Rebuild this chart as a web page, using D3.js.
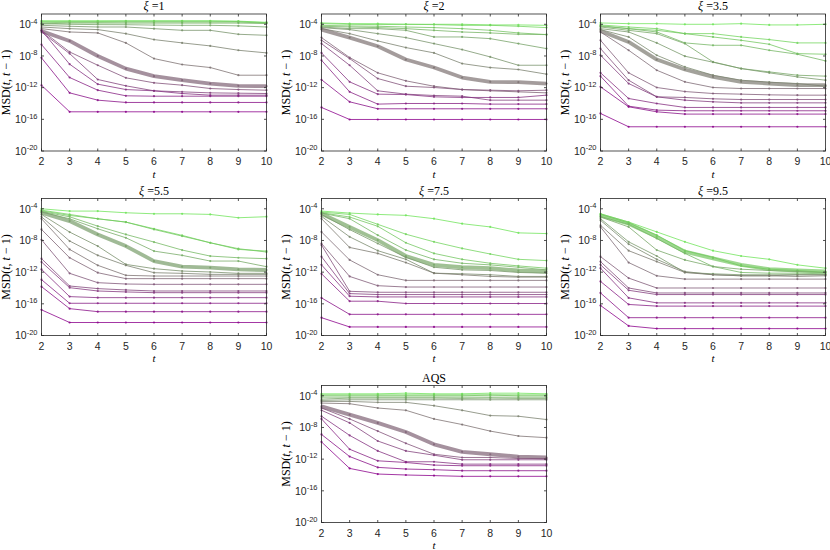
<!DOCTYPE html>
<html lang="en">
<head>
<meta charset="UTF-8">
<title>MSD(t, t-1) panels</title>
<script src="https://cdn.jsdelivr.net/npm/d3@7"></script>
<style>
  body { margin: 0; background: #fff; }
</style>
</head>
<body>
<svg id="chart" width="830" height="550"></svg>
<script>
// x positions and axis ticks
var tSteps = [2, 3, 4, 5, 6, 7, 8, 9, 10];
var yTickExp = [-4, -8, -12, -16, -20];
var panelTitles = ["1", "2", "3.5", "5.5", "7.5", "9.5", "AQS"];

// log10 of MSD(t, t-1), one row per curve, ordered green -> purple
var logXi1 = [
  [-3.55, -3.55, -3.55, -3.55, -3.55, -3.55, -3.55, -3.6, -3.75],
  [-3.65, -3.65, -3.65, -3.62, -3.62, -3.62, -3.62, -3.65, -3.8],
  [-3.8, -3.75, -3.75, -3.72, -3.72, -3.72, -3.72, -3.72, -3.85],
  [-3.95, -3.85, -3.85, -3.85, -3.85, -3.85, -3.85, -3.85, -3.9],
  [-3.92, -4.0, -4.04, -4.05, -4.1, -4.13, -4.13, -4.2, -4.34],
  [-4.13, -4.25, -4.34, -4.34, -4.55, -4.76, -4.76, -5.26, -5.39],
  [-4.34, -4.55, -4.67, -5.18, -5.93, -6.35, -6.73, -7.28, -7.61],
  [-4.55, -4.97, -5.09, -6.35, -8.33, -9.08, -9.46, -10.43, -10.43],
  [-4.84, -6.10, -8.0, -9.6, -10.55, -11.06, -11.48, -11.77, -11.82],
  [-4.76, -7.49, -9.17, -10.76, -11.39, -11.69, -12.11, -12.24, -12.32],
  [-4.97, -7.70, -10.97, -11.77, -12.40, -12.53, -12.66, -12.70, -12.74],
  [-4.76, -9.04, -11.56, -12.24, -12.40, -12.74, -12.95, -12.95, -12.95],
  [-6.56, -10.72, -12.32, -13.03, -13.08, -13.08, -13.08, -13.08, -13.08],
  [-8.24, -12.66, -13.58, -13.87, -13.87, -13.87, -13.87, -13.87, -13.87],
  [-11.7, -15.05, -15.05, -15.05, -15.05, -15.05, -15.05, -15.05, -15.05]
];
var logXi2 = [
  [-3.83, -3.92, -3.92, -4.0, -4.0, -4.0, -4.08, -4.08, -4.13],
  [-3.92, -4.0, -4.04, -4.0, -4.04, -4.13, -4.13, -4.25, -4.42],
  [-4.13, -4.21, -4.25, -4.34, -4.42, -4.55, -4.76, -5.09, -5.30],
  [-4.25, -4.34, -4.42, -4.55, -4.76, -4.97, -5.09, -5.26, -5.30],
  [-4.34, -4.55, -4.55, -4.76, -5.60, -5.60, -5.81, -6.44, -7.07],
  [-4.42, -4.67, -5.18, -5.68, -6.44, -7.19, -8.12, -9.17, -9.17],
  [-4.55, -5.18, -6.10, -6.94, -7.61, -8.96, -9.46, -9.71, -10.30],
  [-4.67, -5.68, -6.77, -8.45, -9.46, -10.72, -11.27, -11.31, -11.48],
  [-5.68, -8.20, -10.13, -11.14, -11.82, -12.24, -12.40, -12.53, -12.66],
  [-6.02, -8.33, -10.85, -11.82, -11.98, -12.24, -12.32, -12.40, -12.32],
  [-6.44, -9.17, -12.40, -12.82, -12.99, -13.08, -13.58, -13.58, -13.58],
  [-7.61, -11.27, -12.82, -12.87, -13.16, -13.24, -13.24, -13.24, -12.95],
  [-8.54, -12.53, -14.08, -14.00, -14.00, -14.00, -14.08, -14.08, -14.08],
  [-11.0, -13.79, -14.67, -14.67, -14.67, -14.67, -14.67, -14.67, -14.67],
  [-14.5, -16.02, -16.02, -16.02, -16.02, -16.02, -16.02, -16.02, -16.02]
];
var logXi35 = [
  [-3.83, -3.92, -3.92, -4.0, -4.0, -3.92, -4.08, -4.08, -4.0],
  [-4.08, -4.34, -4.55, -5.18, -5.18, -5.60, -5.93, -6.35, -6.35],
  [-4.17, -4.55, -4.76, -5.18, -5.60, -6.02, -6.52, -7.70, -7.78],
  [-4.25, -4.55, -4.97, -6.35, -6.65, -6.65, -7.28, -7.78, -8.62],
  [-4.34, -4.76, -5.18, -6.44, -8.75, -9.59, -10.01, -10.43, -10.55],
  [-4.55, -4.97, -6.35, -8.03, -8.79, -9.59, -10.13, -10.64, -11.06],
  [-4.67, -5.60, -7.91, -9.38, -10.43, -11.06, -11.31, -11.48, -11.82],
  [-4.84, -6.23, -8.45, -9.71, -10.64, -11.27, -11.48, -11.69, -11.69],
  [-4.97, -7.28, -9.80, -11.27, -11.98, -12.11, -12.11, -12.11, -12.11],
  [-6.02, -10.13, -11.98, -12.49, -12.74, -12.82, -12.91, -12.95, -12.95],
  [-7.07, -11.06, -13.16, -13.24, -13.41, -13.50, -13.50, -13.50, -13.50],
  [-7.91, -11.48, -13.16, -13.58, -13.79, -13.92, -13.92, -13.92, -13.92],
  [-10.13, -13.37, -14.00, -14.50, -14.50, -14.50, -14.50, -14.50, -14.50],
  [-10.55, -14.34, -14.84, -14.92, -14.92, -14.92, -14.92, -14.92, -14.92],
  [-11.90, -14.42, -15.05, -15.34, -15.34, -15.34, -15.34, -15.34, -15.34],
  [-15.26, -16.94, -16.94, -16.94, -16.94, -16.94, -16.94, -16.94, -16.94]
];
var logXi55 = [
  [-4.0, -4.29, -4.29, -4.5, -4.63, -4.63, -4.71, -5.13, -5.0],
  [-4.17, -4.71, -5.26, -5.68, -6.52, -7.36, -8.29, -9.13, -9.34],
  [-4.25, -4.84, -5.26, -5.68, -6.61, -7.45, -8.29, -9.04, -9.46],
  [-4.34, -5.01, -6.19, -7.24, -8.20, -9.21, -9.97, -10.18, -10.30],
  [-4.42, -5.26, -6.52, -7.66, -9.34, -9.88, -10.60, -10.60, -11.31],
  [-4.5, -5.55, -7.24, -8.71, -10.60, -11.31, -11.44, -11.65, -11.73],
  [-4.71, -6.94, -8.71, -11.02, -11.56, -11.86, -11.98, -12.15, -12.15],
  [-5.01, -8.07, -9.88, -11.14, -12.07, -12.15, -12.28, -12.28, -12.28],
  [-5.26, -9.13, -11.14, -12.40, -12.49, -12.49, -12.49, -12.49, -12.49],
  [-6.61, -10.18, -12.07, -12.82, -12.82, -12.82, -12.82, -12.82, -12.82],
  [-7.91, -12.15, -13.33, -13.50, -13.54, -13.54, -13.54, -13.54, -13.54],
  [-10.30, -13.75, -14.08, -14.25, -14.38, -14.38, -14.38, -14.38, -14.38],
  [-10.72, -13.96, -14.38, -14.50, -14.59, -14.59, -14.59, -14.59, -14.59],
  [-11.65, -15.09, -15.22, -15.22, -15.22, -15.22, -15.22, -15.22, -15.22],
  [-12.95, -15.93, -15.93, -15.93, -15.93, -15.93, -15.93, -15.93, -15.93],
  [-13.83, -16.61, -16.99, -16.99, -16.99, -16.99, -16.99, -16.99, -16.99],
  [-16.76, -18.36, -18.36, -18.36, -18.36, -18.36, -18.36, -18.36, -18.36]
];
var logXi75 = [
  [-4.29, -4.54, -4.71, -4.83, -5.25, -5.88, -6.29, -7.04, -7.13],
  [-4.42, -4.71, -5.96, -7.21, -8.17, -9.0, -9.71, -10.38, -10.54],
  [-4.5, -5.04, -6.21, -8.29, -9.63, -10.38, -10.88, -11.21, -11.5],
  [-4.54, -5.25, -7.33, -9.21, -10.38, -10.88, -11.08, -11.38, -11.71],
  [-4.63, -6.29, -7.96, -9.96, -11.08, -11.38, -11.5, -11.79, -11.92],
  [-4.71, -6.63, -8.38, -10.13, -11.38, -11.71, -11.79, -12.04, -12.13],
  [-4.96, -7.54, -9.29, -10.38, -12.13, -12.21, -12.33, -12.54, -12.54],
  [-5.25, -8.88, -9.63, -10.79, -12.13, -12.33, -12.54, -12.63, -12.63],
  [-6.92, -10.46, -12.33, -13.04, -13.04, -13.04, -13.04, -13.04, -13.04],
  [-8.38, -12.54, -13.71, -13.88, -13.88, -13.88, -13.88, -13.88, -13.88],
  [-8.58, -14.42, -14.54, -14.54, -14.54, -14.54, -14.54, -14.54, -14.54],
  [-10.04, -14.71, -14.83, -14.83, -14.83, -14.83, -14.83, -14.83, -14.83],
  [-11.08, -15.04, -15.13, -15.13, -15.13, -15.13, -15.13, -15.13, -15.13],
  [-12.21, -15.67, -15.67, -15.96, -15.96, -15.96, -15.96, -15.96, -15.96],
  [-15.25, -17.33, -17.33, -17.33, -17.33, -17.33, -17.33, -17.33, -17.33],
  [-17.75, -18.92, -18.92, -18.92, -18.92, -18.92, -18.92, -18.92, -18.92]
];
var logXi95 = [
  [-4.63, -5.67, -6.92, -8.17, -9.29, -9.96, -10.38, -11.08, -11.5],
  [-4.71, -5.79, -7.33, -9.29, -10.13, -11.21, -11.63, -11.79, -12.04],
  [-4.83, -5.88, -7.54, -9.42, -10.25, -11.08, -11.63, -11.79, -11.92],
  [-4.96, -5.96, -7.75, -9.63, -11.29, -12.04, -12.13, -12.13, -12.21],
  [-5.04, -6.29, -9.21, -10.46, -11.29, -11.63, -11.79, -11.92, -12.04],
  [-5.25, -8.17, -9.96, -12.04, -12.21, -12.33, -12.33, -12.33, -12.33],
  [-5.46, -8.46, -10.38, -11.92, -12.33, -12.46, -12.46, -12.33, -12.33],
  [-6.08, -9.29, -10.67, -12.04, -12.33, -12.46, -12.46, -12.54, -12.46],
  [-6.29, -10.79, -12.46, -12.88, -12.88, -12.88, -12.88, -12.88, -12.88],
  [-10.04, -12.75, -14.0, -14.0, -14.0, -14.0, -14.0, -14.0, -14.0],
  [-10.67, -14.0, -14.63, -14.63, -14.63, -14.63, -14.63, -14.63, -14.63],
  [-11.08, -14.29, -14.83, -14.83, -14.83, -14.83, -14.83, -14.83, -14.83],
  [-11.5, -15.25, -15.88, -15.88, -15.88, -15.88, -15.88, -15.88, -15.88],
  [-13.17, -16.08, -16.29, -16.29, -16.29, -16.29, -16.29, -16.29, -16.29],
  [-14.63, -17.75, -17.75, -17.75, -17.75, -17.75, -17.75, -17.75, -17.75],
  [-16.21, -18.79, -19.13, -19.13, -19.13, -19.13, -19.13, -19.13, -19.13]
];
var logAqs = [
  [-3.75, -3.75, -3.75, -3.67, -3.75, -3.75, -3.67, -3.67, -3.75],
  [-3.88, -3.88, -3.88, -3.88, -3.88, -3.88, -3.88, -3.88, -3.88],
  [-4.0, -4.0, -4.0, -4.0, -4.0, -4.0, -3.92, -4.0, -4.0],
  [-4.17, -4.17, -4.17, -4.17, -4.17, -4.17, -4.17, -4.17, -4.17],
  [-4.42, -4.29, -4.29, -4.29, -4.29, -4.33, -4.29, -4.33, -4.33],
  [-4.58, -4.5, -4.5, -4.5, -4.5, -4.5, -4.5, -4.5, -4.5],
  [-4.71, -4.71, -4.83, -4.83, -5.25, -5.83, -6.5, -6.58, -7.0],
  [-4.92, -5.0, -5.54, -5.83, -6.92, -7.63, -8.46, -9.08, -9.29],
  [-5.33, -6.38, -7.42, -8.58, -10.13, -11.08, -11.38, -11.67, -11.79],
  [-5.54, -6.92, -8.46, -10.0, -11.38, -11.79, -11.79, -11.92, -11.92],
  [-5.83, -7.42, -9.71, -10.96, -11.5, -12.08, -12.08, -12.08, -12.08],
  [-6.58, -9.0, -10.96, -12.33, -12.33, -12.63, -12.63, -12.63, -12.63],
  [-6.92, -10.75, -12.21, -12.42, -12.75, -12.83, -12.83, -12.83, -12.83],
  [-8.88, -11.67, -13.04, -13.25, -13.33, -13.46, -13.46, -13.46, -13.46],
  [-9.83, -13.17, -13.88, -14.0, -14.08, -14.17, -14.17, -14.17, -14.17]
];
// which curve is drawn with the thick stroke in each panel
var thickIndex = [8, 7, 7, 5, 4, 2, 8];

var panelSeries = [logXi1, logXi2, logXi35, logXi55, logXi75, logXi95, logAqs];

// layout
var pw = 225, ph = 137;
var lefts = [41.5, 321.5, 600.5, 41.5, 321.5, 600.5, 321.5];
var tops = [14, 14, 14, 198.5, 198.5, 198.5, 385.5];
var axisColor = "#262626";
var sansFont = "'Liberation Sans', Arial, sans-serif";
var serifFont = "'Liberation Serif', 'Times New Roman', serif";

var colorOf = d3.interpolateRgb("rgb(112,228,90)", "rgb(138,0,138)");

var svg = d3.select("#chart");

panelSeries.forEach(function (series, p) {
    var g = svg.append("g").attr("transform", "translate(" + lefts[p] + "," + tops[p] + ")");

    var x = d3.scaleLinear().domain([2, 10]).range([0, pw]);
    var y = d3.scaleLog().domain([1e-20, Math.pow(10, -2.7)]).range([ph, 0]);

    var line = d3.line()
        .x(function (d, i) { return x(tSteps[i]); })
        .y(function (d) { return y(Math.pow(10, d)); });

    var n = series.length;
    series.forEach(function (s, i) {
        var c = colorOf(i / (n - 1));
        var thick = (i === thickIndex[p]);
        g.append("path")
            .attr("d", line(s))
            .attr("fill", "none")
            .attr("stroke", c)
            .attr("stroke-opacity", thick ? 0.7 : 0.78)
            .attr("stroke-width", thick ? 3.8 : 1)
            .attr("stroke-linejoin", "round");
        g.selectAll(null)
            .data(s)
            .enter().append("circle")
            .attr("cx", function (d, k) { return x(tSteps[k]); })
            .attr("cy", function (d) { return y(Math.pow(10, d)); })
            .attr("r", 1.1)
            .attr("fill", c)
            .attr("fill-opacity", 0.85);
    });

    // frame
    g.append("rect")
        .attr("width", pw).attr("height", ph)
        .attr("fill", "none")
        .attr("stroke", axisColor)
        .attr("stroke-width", 0.8);

    // x ticks (inward, bottom and top)
    tSteps.forEach(function (t) {
        g.append("line").attr("x1", x(t)).attr("x2", x(t)).attr("y1", ph).attr("y2", ph - 2.5)
            .attr("stroke", axisColor).attr("stroke-width", 0.8);
        g.append("line").attr("x1", x(t)).attr("x2", x(t)).attr("y1", 0).attr("y2", 2.5)
            .attr("stroke", axisColor).attr("stroke-width", 0.8);
        g.append("text")
            .attr("x", x(t)).attr("y", ph + 14)
            .attr("text-anchor", "middle")
            .attr("font-family", sansFont).attr("font-size", 10.5)
            .attr("fill", axisColor)
            .text(t);
    });

    // y ticks (inward, left and right)
    yTickExp.forEach(function (e) {
        var yy = y(Math.pow(10, e));
        g.append("line").attr("x1", 0).attr("x2", 2.5).attr("y1", yy).attr("y2", yy)
            .attr("stroke", axisColor).attr("stroke-width", 0.8);
        g.append("line").attr("x1", pw).attr("x2", pw - 2.5).attr("y1", yy).attr("y2", yy)
            .attr("stroke", axisColor).attr("stroke-width", 0.8);
        var lbl = g.append("text")
            .attr("x", -4).attr("y", yy + 3.8)
            .attr("text-anchor", "end")
            .attr("font-family", sansFont).attr("font-size", 10.5)
            .attr("fill", axisColor);
        lbl.append("tspan").text("10");
        lbl.append("tspan").attr("dy", -4.5).attr("font-size", 7.5).text(e);
    });

    // title
    var title = g.append("text")
        .attr("x", pw / 2).attr("y", -4)
        .attr("text-anchor", "middle")
        .attr("font-family", serifFont).attr("font-size", 12)
        .attr("fill", "#000");
    if (panelTitles[p] === "AQS") {
        title.text("AQS");
    } else {
        title.append("tspan").attr("font-style", "italic").text("ξ");
        title.append("tspan").text(" =" + panelTitles[p]);
    }

    // x label
    g.append("text")
        .attr("x", pw / 2).attr("y", ph + 26.5)
        .attr("text-anchor", "middle")
        .attr("font-family", serifFont).attr("font-size", 11)
        .attr("font-style", "italic")
        .text("t");

    // y label
    var yl = g.append("text")
        .attr("transform", "translate(-32," + (ph / 2) + ") rotate(-90)")
        .attr("text-anchor", "middle")
        .attr("font-family", serifFont).attr("font-size", 12)
        .attr("fill", "#000");
    yl.append("tspan").text("MSD(");
    yl.append("tspan").attr("font-style", "italic").text("t");
    yl.append("tspan").text(", ");
    yl.append("tspan").attr("font-style", "italic").text("t");
    yl.append("tspan").text(" \u2212 1)");
});
</script>
</body>
</html>
